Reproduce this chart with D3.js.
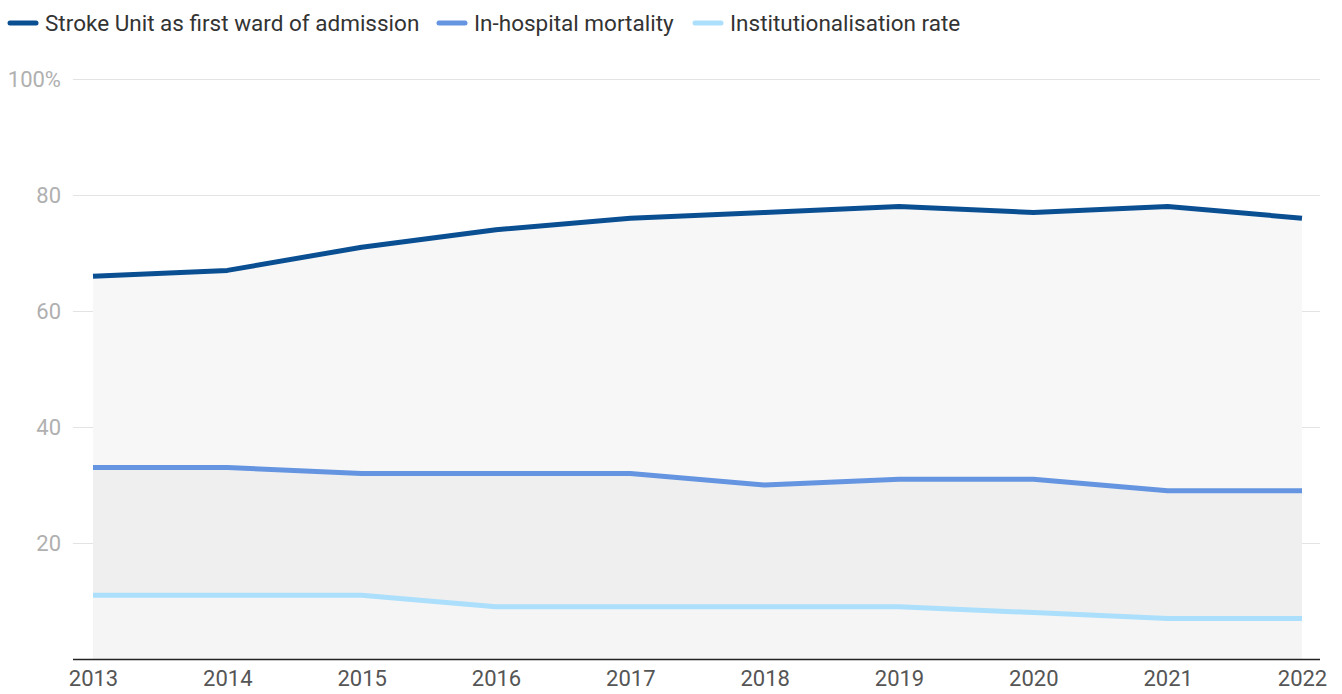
<!DOCTYPE html>
<html>
<head>
<meta charset="utf-8">
<script src="https://cdn.jsdelivr.net/npm/d3@7"></script>
<style>
  body { margin: 0; background: #fff; font-family: Roboto, "Noto Sans", sans-serif; }
  svg { display: block; }
</style>
</head>
<body>
<div id="chart"></div>
<script>
// data
var years = [2013, 2014, 2015, 2016, 2017, 2018, 2019, 2020, 2021, 2022];
var strokeUnit = [66, 67, 71, 74, 76, 77, 78, 77, 78, 76];
var mortality = [33, 33, 32, 32, 32, 30, 31, 31, 29, 29];
var institution = [11, 11, 11, 9, 9, 9, 9, 8, 7, 7];
var seriesNames = ['Stroke Unit as first ward of admission', 'In-hospital mortality', 'Institutionalisation rate'];
var seriesColors = ['#0b4f93', '#6595e0', '#acdffb'];
var bandColors = ['#f7f7f7', '#efefef', '#f5f5f5'];
var yTicks = [0, 20, 40, 60, 80, 100];

const width = 1342, height = 694;

var svg = d3.select('#chart').append('svg')
    .attr('width', width)
    .attr('height', height);

var xScale = d3.scalePoint()
    .domain(years)
    .range([93, 1302]);

var yScale = d3.scaleLinear()
    .domain([0, 100])
    .range([659, 79]);

var series = [strokeUnit, mortality, institution];

// gridlines + y labels
var yAxis = svg.append('g')
    .attr('transform', 'translate(73,0)')
    .call(d3.axisLeft(yScale)
      .tickValues(yTicks.filter(function (d) { return d > 0; }))
      .tickSize(-1247)
      .tickPadding(12)
      .tickFormat(function (d) { return d == 100 ? '100%' : d; }));
yAxis.select('.domain').remove();
yAxis.selectAll('line').attr('stroke', '#e3e3e3').attr('stroke-width', 1.2);
yAxis.selectAll('text')
  .attr('fill', '#b0b0b0')
  .style('font-size', '22px')
  .style('font-family', 'Roboto, sans-serif');

// shaded bands between lines
series.forEach(function (s, i) {
  var below = series[i + 1];
  var band = d3.area()
      .x(function (d, j) { return xScale(years[j]); })
      .y0(function (d, j) { return yScale(below ? below[j] : 0); })
      .y1(function (d) { return yScale(d); });
  svg.append('path')
    .datum(s)
    .attr('fill', bandColors[i])
    .attr('d', band);
});

// baseline + x labels
var xAxis = svg.append('g')
    .attr('transform', 'translate(0,659)')
    .call(d3.axisBottom(xScale).tickSize(0).tickPadding(11));
xAxis.select('.domain').attr('d', 'M73,0.5H1320').attr('stroke', '#222').attr('stroke-width', 1.5);
xAxis.selectAll('text')
  .attr('fill', '#555')
  .style('font-size', '22px')
  .style('font-family', 'Roboto, sans-serif');

// lines
var valueLine = d3.line()
    .x(function (d, j) { return xScale(years[j]); })
    .y(function (d) { return yScale(d); });

for (var i = series.length - 1; i >= 0; i--) {
  svg.append('path')
    .datum(series[i])
    .attr('fill', 'none')
    .attr('stroke', seriesColors[i])
    .attr('stroke-width', 5)
    .attr('stroke-linejoin', 'round')
    .attr('d', valueLine);
}

// legend
var legendX = [8, 437, 693];
var legend = svg.append('g');
seriesNames.forEach(function (name, i) {
  legend.append('line')
    .attr('x1', legendX[i] + 2).attr('x2', legendX[i] + 28)
    .attr('y1', 23).attr('y2', 23)
    .attr('stroke', seriesColors[i])
    .attr('stroke-width', 5)
    .attr('stroke-linecap', 'round');
  legend.append('text')
    .attr('x', legendX[i] + 37)
    .attr('y', 31)
    .attr('fill', '#333')
    .style('font-size', '22.5px')
    .style('font-family', 'Roboto, sans-serif')
    .text(name);
});
</script>
</body>
</html>
